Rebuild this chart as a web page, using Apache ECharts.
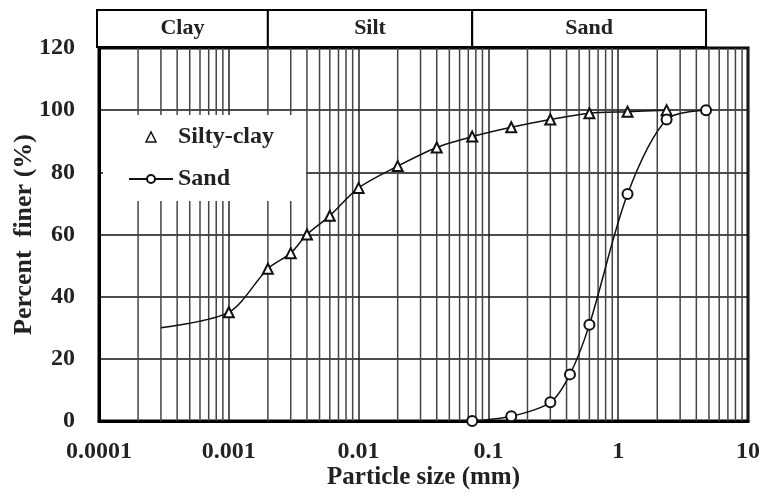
<!DOCTYPE html>
<html>
<head>
<meta charset="utf-8">
<script src="https://cdn.jsdelivr.net/npm/echarts@6/dist/echarts.min.js"></script>
<style>
  html, body { margin: 0; padding: 0; background: #fff; }
  #main { width: 765px; height: 496px; }
</style>
</head>
<body>
<div id="main"></div>
<script>
// grain size data (mm, % finer)
const siltyClaySize = [0.0003, 0.001, 0.002, 0.003, 0.004, 0.006, 0.01, 0.02, 0.04, 0.075, 0.15, 0.3, 0.6, 1.18, 2.36];
const siltyClayPct  = [30, 35, 49, 54, 60, 66, 75, 82, 88, 91.5, 94.5, 97, 99, 99.5, 100];
const sandSize = [0.075, 0.15, 0.3, 0.425, 0.6, 1.18, 2.36, 4.75];
const sandPct  = [0, 1.5, 6, 15, 31, 73, 97, 100];

// soil classes shown above the plot
const bandNames = ['Clay', 'Silt', 'Sand'];
const bandFrom  = [0.0001, 0.002, 0.075];
const bandTo    = [0.002, 0.075, 4.75];

// log grid: decades and the minor multipliers
const decades = [0.0001, 0.001, 0.01, 0.1, 1];
const minorSteps = [2, 3, 4, 5, 6, 7, 8, 9];
const xTickLabels = ['0.0001', '0.001', '0.01', '0.1', '1', '10'];

const FONT = 'Liberation Serif';
const minorLines = [];
decades.forEach(d => minorSteps.forEach(m => minorLines.push([d * m])));

const chart = echarts.init(document.getElementById('main'));

chart.setOption({
  animation: false,
  backgroundColor: '#fff',
  textStyle: { fontFamily: FONT },
  grid: [
    { left: 99, right: 17, top: 48, bottom: 75, show: true, borderColor: '#000', borderWidth: 3, outerBoundsMode: 'none', containLabel: false },
    { left: 99, right: 17, top: 10, height: 37, outerBoundsMode: 'none', containLabel: false }
  ],
  xAxis: [
    {
      type: 'log', logBase: 10, min: 0.0001, max: 10, gridIndex: 0,
      name: 'Particle size (mm)', nameLocation: 'middle', nameGap: 44, nameMoveOverlap: false,
      nameTextStyle: { fontFamily: FONT, fontWeight: 'bold', fontSize: 25, color: '#222' },
      axisLine: { lineStyle: { color: '#000', width: 3 } },
      axisTick: { show: false },
      axisLabel: {
        margin: 19, fontFamily: FONT, fontWeight: 'bold', fontSize: 24, color: '#222',
        formatter: v => xTickLabels[Math.round(Math.log10(v)) + 4]
      },
      splitLine: { show: true, lineStyle: { color: '#222', width: 1.5 } }
    },
    { type: 'log', logBase: 10, min: 0.0001, max: 10, gridIndex: 1, show: false }
  ],
  yAxis: [
    {
      type: 'value', min: 0, max: 120, interval: 20, gridIndex: 0,
      name: 'Percent  finer (%)', nameLocation: 'middle', nameGap: 62, nameMoveOverlap: false,
      nameTextStyle: { fontFamily: FONT, fontWeight: 'bold', fontSize: 26, color: '#222' },
      axisLine: { show: true, lineStyle: { color: '#000', width: 3 } },
      axisTick: { show: false },
      axisLabel: { margin: 24, fontFamily: FONT, fontWeight: 'bold', fontSize: 24, color: '#222' },
      splitLine: { show: true, lineStyle: { color: '#111', width: 1.5 } }
    },
    { type: 'value', min: 0, max: 1, gridIndex: 1, show: false }
  ],
  legend: {
    orient: 'vertical', left: 103, top: 115,
    padding: [10, 32, 10, 25],
    backgroundColor: '#fff',
    itemWidth: 44, itemHeight: 10, itemGap: 18,
    symbolKeepAspect: true,
    textStyle: { fontFamily: FONT, fontWeight: 'bold', fontSize: 24, color: '#222' },
    data: [
      {
        name: 'Silty-clay', icon: 'path://M0,10L5,0L10,10Z',
        itemStyle: { color: '#fff', borderColor: '#111', borderWidth: 1.5 }
      },
      { name: 'Sand' }
    ]
  },
  series: [
    {
      type: 'custom', xAxisIndex: 0, yAxisIndex: 0, silent: true, z: 1,
      data: minorLines,
      renderItem: (params, api) => {
        const a = api.coord([api.value(0), 0]);
        const b = api.coord([api.value(0), 120]);
        return {
          type: 'line',
          shape: { x1: a[0], y1: a[1], x2: b[0], y2: b[1] },
          style: { stroke: '#444', lineWidth: 1.5 }
        };
      }
    },
    {
      type: 'custom', xAxisIndex: 1, yAxisIndex: 1, silent: true,
      data: bandFrom.map((f, i) => [f, bandTo[i]]),
      renderItem: (params, api) => {
        const p0 = api.coord([api.value(0), 1]);
        const p1 = api.coord([api.value(1), 0]);
        const x0 = p0[0] - (params.dataIndex === 0 ? 2 : 0);
        return {
          type: 'rect',
          shape: { x: x0, y: p0[1], width: p1[0] - x0, height: p1[1] - p0[1] },
          style: { fill: '#fff', stroke: '#000', lineWidth: 2 },
          textContent: {
            style: { text: bandNames[params.dataIndex], fontFamily: FONT, fontWeight: 'bold', fontSize: 22, fill: '#222' }
          },
          textConfig: { position: 'inside' }
        };
      }
    },
    {
      name: 'Silty-clay', type: 'line', smooth: 0.3, z: 3,
      symbol: 'emptyTriangle', symbolSize: 10,
      data: siltyClaySize.map((s, i) => i === 0 ? { value: [s, siltyClayPct[i]], symbol: 'none' } : [s, siltyClayPct[i]]),
      lineStyle: { color: '#111', width: 1.5 },
      itemStyle: { color: '#111', borderWidth: 1.5 }
    },
    {
      name: 'Sand', type: 'line', smooth: 0.3, z: 3,
      symbol: 'emptyCircle', symbolSize: 10,
      data: sandSize.map((s, i) => [s, sandPct[i]]),
      lineStyle: { color: '#111', width: 1.5 },
      itemStyle: { color: '#111', borderWidth: 1.5 }
    }
  ]
});
</script>
</body>
</html>
